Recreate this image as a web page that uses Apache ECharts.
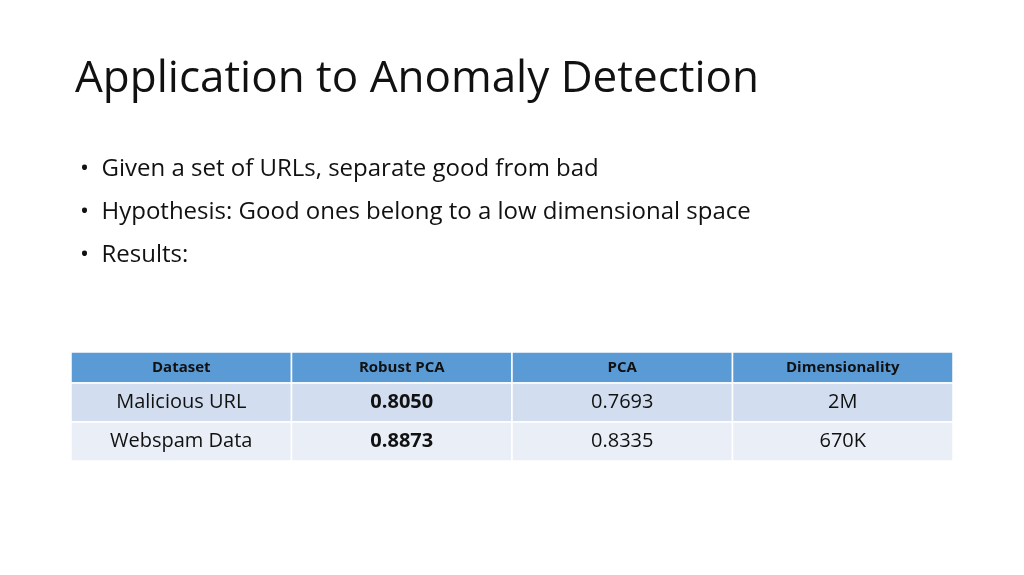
<!DOCTYPE html>
<html><head><meta charset="utf-8">
<script src="https://cdn.jsdelivr.net/npm/echarts@6/dist/echarts.min.js"></script>
<style>html,body{margin:0;padding:0;background:#fff}#c{width:1024px;height:575px}</style>
</head><body><div id="c"></div>
<script>
const titleText = 'Application to Anomaly Detection';
const bullets = ['Given a set of URLs, separate good from bad','Hypothesis: Good ones belong to a low dimensional space','Results:'];
const headers = ['Dataset','Robust PCA','PCA','Dimensionality'];
const datasets = ['Malicious URL','Webspam Data'];
const robustPCA = ['0.8050','0.8873'];
const pca = ['0.7693','0.8335'];
const dimensionality = ['2M','670K'];
const rowBounds = [[0,31],[31,70],[70,109]];

const rows = [headers];
datasets.forEach((d,i)=>rows.push([d,robustPCA[i],pca[i],dimensionality[i]]));
const data = [];
rows.forEach((r,ri)=>r.forEach((t,ci)=>data.push([ci,rowBounds[ri][0],rowBounds[ri][1],ri,t])));
const fills = ['#5B9BD5','#D2DEEF','#EAEFF7'];

const chart = echarts.init(document.getElementById('c'));
const font = '"Open Sans", "Noto Sans", sans-serif';
chart.setOption({
  animation:false,
  title:{text:titleText,left:70,top:52,textStyle:{fontFamily:font,fontWeight:'normal',fontSize:44,color:'#111'}},
  graphic:bullets.map((b,i)=>({type:'text',left:80,top:157+i*43,style:{text:'•  '+b,font:'24px '+font,fill:'#111'}})),
  grid:{left:71,top:352,width:882,height:109},
  xAxis:{type:'value',min:0,max:4,show:false},
  yAxis:{type:'value',min:0,max:109,inverse:true,show:false},
  series:[{type:'custom',data:data,
    renderItem:(params,api)=>{
      const c=api.value(0),y0=api.value(1),y1=api.value(2),ri=api.value(3);
      const t=data[params.dataIndex][4];
      const p0=api.coord([c,y0]),p1=api.coord([c+1,y1]);
      const bold = ri===0 || c===1;
      return {type:'group',children:[
        {type:'rect',shape:{x:p0[0],y:p0[1],width:p1[0]-p0[0],height:p1[1]-p0[1]},
         style:{fill:fills[ri],stroke:'#fff',lineWidth:1.5}},
        {type:'text',style:{text:t,x:(p0[0]+p1[0])/2,y:(p0[1]+p1[1])/2,align:'center',verticalAlign:'middle',
          font:(bold?'bold ':'')+(ri===0?'15px ':'20px ')+font,fill:'#111'}}
      ]};
    }}]
});
</script></body></html>
